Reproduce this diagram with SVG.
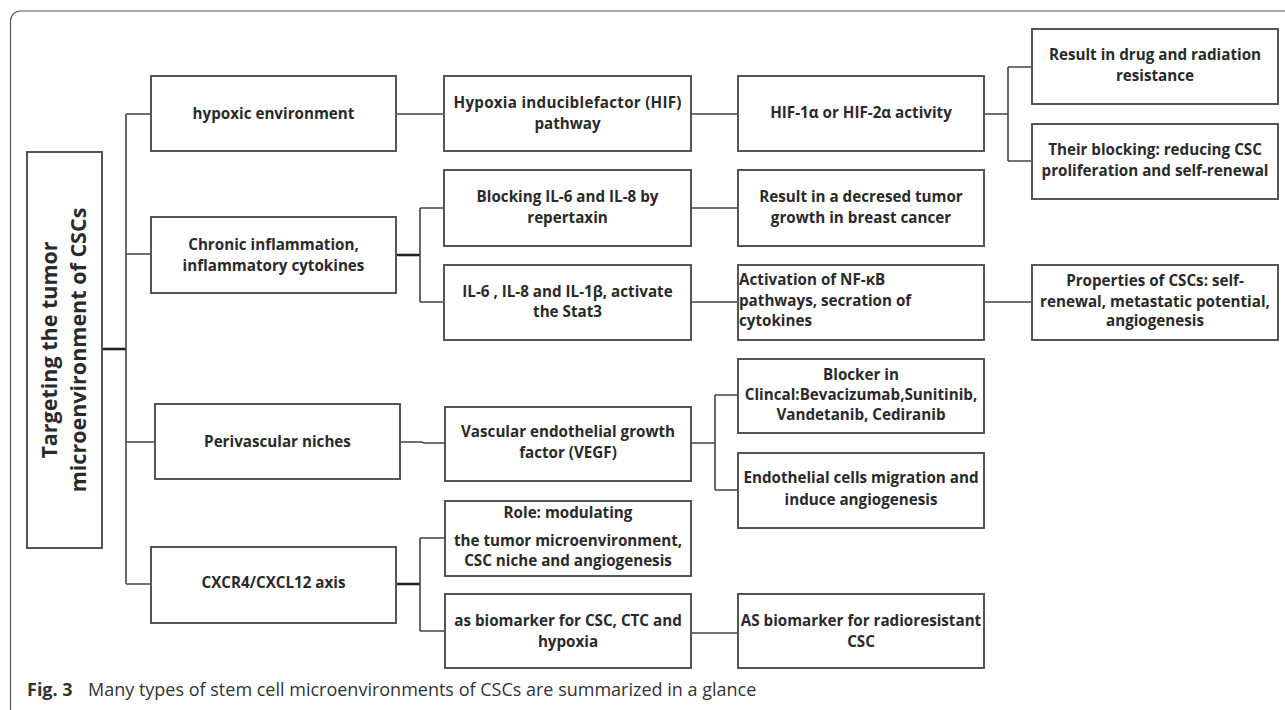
<svg xmlns="http://www.w3.org/2000/svg" width="1285" height="710" viewBox="0 0 1285 710">
<style>
.box{fill:#fff;stroke:#555;stroke-width:2}
.t{font-family:"Open Sans","Liberation Sans",sans-serif;font-weight:700;font-size:15.2px;fill:#2a2a2a;text-anchor:middle}
.tl{text-anchor:start}
.title{font-family:"Open Sans","Liberation Sans",sans-serif;font-weight:700;font-size:21.5px;fill:#2a2a2a;text-anchor:middle}
.c{fill:none;stroke:#444;stroke-width:1.6}
.ct{fill:none;stroke:#222;stroke-width:2.6}
.cap{font-family:"Open Sans","Liberation Sans",sans-serif;font-size:18px;fill:#333}
</style>
<rect x="0" y="0" width="1285" height="710" fill="#fff"/>
<rect x="10.5" y="11" width="1300" height="720" rx="10" fill="none" stroke="#555" stroke-width="1.2"/>

<g id="connectors">
<path class="ct" d="M102 349H126"/>
<path class="c" d="M126 114V584M126 114H151M126 254H151M126 442H155M126 584H151"/>
<path class="c" d="M396 114H444"/>
<path class="ct" d="M396 255H420"/>
<path class="c" d="M420 208V302M420 208H444M420 302H444"/>
<path class="c" d="M400 442H422L424 443H445"/>
<path class="ct" d="M396 584H420"/>
<path class="c" d="M420 538V631M420 538H445M420 631H445"/>
<path class="c" d="M691 114H738M691 208H738M691 302H738M691 633H738"/>
<path class="c" d="M691 443H715M715 395V490M715 395H738M715 490H738"/>
<path class="c" d="M984 114H1008M1008 67V161M1008 67H1032M1008 161H1032M984 302H1032"/>
</g>

<g id="root">
<rect class="box" x="27" y="152" width="75" height="396"/>
<text class="title" transform="translate(57 350) rotate(-90)"><tspan x="0" y="0">Targeting the tumor</tspan><tspan x="0" y="29">microenvironment of CSCs</tspan></text>
</g>

<g id="hypoxic">
<rect class="box" x="151" y="76" width="245" height="75"/>
<text class="t" x="273.5" y="119">hypoxic environment</text>
</g>
<g id="chronic">
<rect class="box" x="151" y="217" width="245" height="76"/>
<text class="t" x="273.5" y="250">Chronic inflammation,</text>
<text class="t" x="273.5" y="271">inflammatory cytokines</text>
</g>
<g id="perivascular">
<rect class="box" x="155" y="404" width="245" height="75"/>
<text class="t" x="277.5" y="447">Perivascular niches</text>
</g>
<g id="cxcr4">
<rect class="box" x="151" y="547" width="245" height="76"/>
<text class="t" x="273.5" y="588">CXCR4/CXCL12 axis</text>
</g>

<g id="hif">
<rect class="box" x="444" y="76" width="247" height="75"/>
<text class="t" x="567.5" y="108" textLength="228" lengthAdjust="spacing">Hypoxia  induciblefactor  (HIF)</text>
<text class="t" x="567.5" y="129">pathway</text>
</g>
<g id="blocking">
<rect class="box" x="444" y="170" width="247" height="76"/>
<text class="t" x="567.5" y="202">Blocking IL-6 and IL-8 by</text>
<text class="t" x="567.5" y="223">repertaxin</text>
</g>
<g id="il6">
<rect class="box" x="444" y="265" width="247" height="75"/>
<text class="t" x="567.5" y="297">IL-6 , IL-8 and IL-1β, activate</text>
<text class="t" x="567.5" y="317">the Stat3</text>
</g>
<g id="vegf">
<rect class="box" x="445" y="407" width="246" height="74"/>
<text class="t" x="568" y="437">Vascular endothelial growth</text>
<text class="t" x="568" y="458">factor (VEGF)</text>
</g>
<g id="role">
<rect class="box" x="445" y="501" width="246" height="75"/>
<text class="t" x="568" y="518">Role: modulating</text>
<text class="t" x="568" y="546">the tumor microenvironment,</text>
<text class="t" x="568" y="566">CSC niche and angiogenesis</text>
</g>
<g id="biomarker">
<rect class="box" x="445" y="594" width="246" height="74"/>
<text class="t" x="568" y="626">as biomarker for CSC, CTC and</text>
<text class="t" x="568" y="647">hypoxia</text>
</g>

<g id="hif1a">
<rect class="box" x="738" y="76" width="246" height="75"/>
<text class="t" x="861" y="118">HIF-1α or HIF-2α activity</text>
</g>
<g id="decreased">
<rect class="box" x="738" y="170" width="246" height="76"/>
<text class="t" x="861" y="202">Result in a decresed tumor</text>
<text class="t" x="861" y="223">growth in breast cancer</text>
</g>
<g id="nfkb">
<rect class="box" x="738" y="265" width="246" height="75"/>
<text class="t tl" x="739" y="285">Activation of NF-κB</text>
<text class="t tl" x="739" y="306">pathways, secration of</text>
<text class="t tl" x="739" y="326">cytokines</text>
</g>
<g id="blocker">
<rect class="box" x="738" y="359" width="246" height="74"/>
<text class="t" x="861" y="380">Blocker in</text>
<text class="t" x="861" y="400">Clincal:Bevacizumab,Sunitinib,</text>
<text class="t" x="861" y="420">Vandetanib, Cediranib</text>
</g>
<g id="endothelial">
<rect class="box" x="738" y="453" width="246" height="75"/>
<text class="t" x="861" y="483">Endothelial cells migration and</text>
<text class="t" x="861" y="505">induce angiogenesis</text>
</g>
<g id="radioresistant">
<rect class="box" x="738" y="594" width="246" height="74"/>
<text class="t" x="861" y="626">AS biomarker for radioresistant</text>
<text class="t" x="861" y="647">CSC</text>
</g>

<g id="drug">
<rect class="box" x="1032" y="29" width="246" height="75"/>
<text class="t" x="1155" y="60">Result in drug and radiation</text>
<text class="t" x="1155" y="81">resistance</text>
</g>
<g id="their-blocking">
<rect class="box" x="1032" y="124" width="246" height="75"/>
<text class="t" x="1155" y="155">Their blocking: reducing CSC</text>
<text class="t" x="1155" y="176">proliferation and self-renewal</text>
</g>
<g id="properties">
<rect class="box" x="1032" y="265" width="246" height="75"/>
<text class="t" x="1155" y="286">Properties of CSCs: self-</text>
<text class="t" x="1155" y="307">renewal, metastatic potential,</text>
<text class="t" x="1155" y="326">angiogenesis</text>
</g>

<text class="cap" x="27" y="696"><tspan font-weight="bold">Fig. 3</tspan><tspan x="88">Many types of stem cell microenvironments of CSCs are summarized in a glance</tspan></text>
</svg>
